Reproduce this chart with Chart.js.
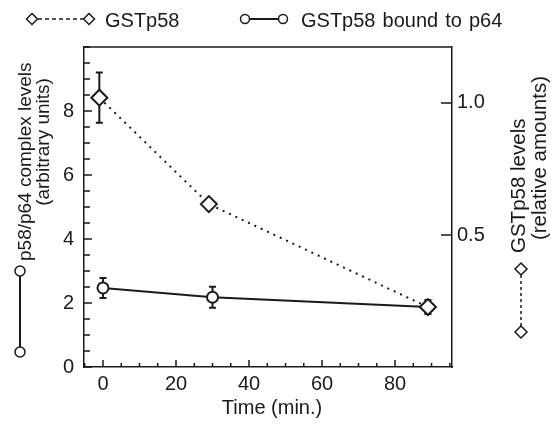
<!DOCTYPE html>
<html><head><meta charset="utf-8">
<script src="https://cdn.jsdelivr.net/npm/chart.js@4/dist/chart.umd.min.js"></script>
<style>html,body{margin:0;padding:0;background:#fff;overflow:hidden}#wrap{width:552px;height:424px}</style>
</head><body><div id="wrap"><canvas id="c" width="552" height="424"></canvas></div>
<script>
// ---- data ----
const timeGST = [-1, 29, 89];
const gstLevels = [1.02, 0.617, 0.227];      // right axis (relative amounts)
const gstErr = [0.095, 0, 0];
const timeBound = [0, 30, 89];
const boundLevels = [2.47, 2.18, 1.875];     // left axis (arbitrary units)
const boundErr = [0.31, 0.33, 0.22];
const xTicks = [0, 20, 40, 60, 80];
const leftTicks = [0, 2, 4, 6, 8];
const rightTicks = [0.5, 1.0];
const legendLabels = ['GSTp58', 'GSTp58 bound to p64'];
const leftTitle = ['p58/p64 complex levels', '(arbitrary units)'];
const rightTitle = ['GSTp58 levels', '(relative amounts)'];
const xTitle = 'Time (min.)';

const INK = '#1a1a1a';
const FONT = '"Liberation Sans", Arial, Helvetica, sans-serif';

function diamond(ctx, x, y, r) {
  ctx.beginPath();
  ctx.moveTo(x, y - r); ctx.lineTo(x + r, y); ctx.lineTo(x, y + r); ctx.lineTo(x - r, y); ctx.closePath();
  ctx.fillStyle = '#fff'; ctx.fill(); ctx.stroke();
}
function circle(ctx, x, y, r) {
  ctx.beginPath(); ctx.arc(x, y, r, 0, Math.PI * 2);
  ctx.fillStyle = '#fff'; ctx.fill(); ctx.stroke();
}

const errorBars = {
  id: 'errorBars',
  beforeDatasetsDraw(chart) {
    const ctx = chart.ctx, xs = chart.scales.x;
    ctx.save();
    ctx.strokeStyle = INK; ctx.lineWidth = 2;
    chart.data.datasets.forEach(ds => {
      const ys = chart.scales[ds.yAxisID];
      ds.data.forEach((p, i) => {
        const e = ds.errors[i];
        if (!e) return;
        const px = xs.getPixelForValue(p.x);
        const t = ys.getPixelForValue(p.y + e), b = ys.getPixelForValue(p.y - e);
        ctx.beginPath();
        ctx.moveTo(px, t); ctx.lineTo(px, b);
        ctx.moveTo(px - 3.5, t); ctx.lineTo(px + 3.5, t);
        ctx.moveTo(px - 3.5, b); ctx.lineTo(px + 3.5, b);
        ctx.stroke();
      });
    });
    ctx.restore();
  }
};

const decor = {
  id: 'decor',
  afterDraw(chart) {
    const ctx = chart.ctx, a = chart.chartArea;
    const xs = chart.scales.x, yl = chart.scales.y, yr = chart.scales.y1;
    ctx.save();
    ctx.strokeStyle = INK; ctx.lineWidth = 1.5;
    // top frame line
    ctx.beginPath(); ctx.moveTo(a.left, a.top); ctx.lineTo(a.right, a.top); ctx.stroke();
    // inward ticks: left axis
    ctx.beginPath();
    for (let v = 0; v <= 10.001; v += 0.5) {
      const y = yl.getPixelForValue(v);
      const len = leftTicks.includes(v) ? 8 : 6;
      ctx.moveTo(a.left, y); ctx.lineTo(a.left + len, y);
    }
    // bottom axis
    for (let v = -5; v <= 95; v += 5) {
      const x = xs.getPixelForValue(v);
      const len = xTicks.includes(v) ? 7 : 4;
      ctx.moveTo(x, a.bottom); ctx.lineTo(x, a.bottom - len);
    }
    // right axis
    rightTicks.forEach(v => {
      const y = yr.getPixelForValue(v);
      ctx.moveTo(a.right, y); ctx.lineTo(a.right - 11, y);
    });
    ctx.stroke();

    // legend
    ctx.fillStyle = INK;
    ctx.font = '20px ' + FONT;
    ctx.textBaseline = 'alphabetic';
    ctx.lineWidth = 1.5;
    ctx.setLineDash([4, 3]);
    ctx.beginPath(); ctx.moveTo(38, 19); ctx.lineTo(83, 19); ctx.stroke();
    ctx.setLineDash([]);
    diamond(ctx, 32, 19, 5.5); diamond(ctx, 89, 19, 5.5);
    ctx.fillStyle = INK; ctx.fillText(legendLabels[0], 105, 27);
    ctx.lineWidth = 2;
    ctx.beginPath(); ctx.moveTo(245, 19); ctx.lineTo(283, 19); ctx.stroke();
    ctx.lineWidth = 1.5;
    circle(ctx, 245, 19, 4.5); circle(ctx, 283, 19, 4.5);
    ctx.fillStyle = INK;
    try { ctx.wordSpacing = '1.5px'; } catch (e) {}
    ctx.fillText(legendLabels[1], 301, 27);
    try { ctx.wordSpacing = '0px'; } catch (e) {}

    // x title
    ctx.textAlign = 'center'; ctx.textBaseline = 'middle';
    ctx.fillText(xTitle, 272, 408);

    // left title (rotated)
    ctx.save();
    ctx.translate(26, 0); ctx.rotate(-Math.PI / 2);
    ctx.font = '19px ' + FONT; ctx.textAlign = 'left'; ctx.textBaseline = 'middle';
    ctx.fillText(leftTitle[0], -261, 0);
    ctx.restore();
    ctx.lineWidth = 2;
    ctx.beginPath(); ctx.moveTo(20, 352); ctx.lineTo(20, 271); ctx.stroke();
    ctx.lineWidth = 1.5;
    circle(ctx, 20, 352, 5); circle(ctx, 20, 271, 5);
    ctx.save();
    ctx.fillStyle = INK;
    ctx.translate(44, 142); ctx.rotate(-Math.PI / 2);
    ctx.font = '19px ' + FONT; ctx.textAlign = 'center'; ctx.textBaseline = 'middle';
    ctx.fillText(leftTitle[1], 0, 0);
    ctx.restore();

    // right title (rotated)
    ctx.save();
    ctx.fillStyle = INK;
    ctx.translate(519, 0); ctx.rotate(-Math.PI / 2);
    ctx.font = '20.5px ' + FONT; ctx.textAlign = 'left'; ctx.textBaseline = 'middle';
    ctx.fillText(rightTitle[0], -253, 0);
    ctx.restore();
    ctx.setLineDash([3, 3]);
    ctx.beginPath(); ctx.moveTo(521, 326); ctx.lineTo(521, 275); ctx.stroke();
    ctx.setLineDash([]);
    diamond(ctx, 521, 332, 6); diamond(ctx, 521, 269, 6);
    ctx.save();
    ctx.fillStyle = INK;
    ctx.translate(540, 158); ctx.rotate(-Math.PI / 2);
    ctx.font = '20.5px ' + FONT; ctx.textAlign = 'center'; ctx.textBaseline = 'middle';
    ctx.fillText(rightTitle[1], 0, 0);
    ctx.restore();
    ctx.restore();
  }
};

const tickFont = { family: FONT, size: 20 };

new Chart(document.getElementById('c'), {
  type: 'line',
  data: {
    datasets: [
      {
        label: legendLabels[0],
        data: timeGST.map((x, i) => ({ x, y: gstLevels[i] })),
        errors: gstErr,
        yAxisID: 'y1',
        borderColor: INK, borderWidth: 2, borderDash: [2, 5],
        pointStyle: 'rectRot', pointRadius: 8, pointBorderWidth: 2,
        pointBackgroundColor: '#fff', pointBorderColor: INK,
        fill: false, tension: 0
      },
      {
        label: legendLabels[1],
        data: timeBound.map((x, i) => ({ x, y: boundLevels[i] })),
        errors: boundErr,
        yAxisID: 'y',
        borderColor: INK, borderWidth: 2,
        pointStyle: 'circle', pointRadius: 5.5, pointBorderWidth: 2,
        pointBackgroundColor: '#fff', pointBorderColor: INK,
        fill: false, tension: 0
      }
    ]
  },
  options: {
    responsive: false, animation: false, devicePixelRatio: 1,
    layout: { padding: { top: 47, left: 0, right: 0, bottom: 0 } },
    plugins: { legend: { display: false }, tooltip: { enabled: false } },
    scales: {
      x: {
        type: 'linear', min: -5.2, max: 95.6,
        afterBuildTicks: s => { s.ticks = xTicks.map(v => ({ value: v })); },
        afterFit: s => { s.height = 57; },
        grid: { display: false, drawTicks: false },
        border: { display: true, color: INK, width: 1.5 },
        ticks: { font: tickFont, color: INK, padding: 5, maxRotation: 0 }
      },
      y: {
        type: 'linear', position: 'left', min: 0, max: 10,
        afterBuildTicks: s => { s.ticks = leftTicks.map(v => ({ value: v })); },
        afterFit: s => { s.width = 84; },
        grid: { display: false, drawTicks: false },
        border: { display: true, color: INK, width: 1.5 },
        ticks: { font: tickFont, color: INK, padding: 10 }
      },
      y1: {
        type: 'linear', position: 'right', min: 0, max: 1.212,
        afterBuildTicks: s => { s.ticks = rightTicks.map(v => ({ value: v })); },
        afterFit: s => { s.width = 100; },
        grid: { display: false, drawTicks: false },
        border: { display: true, color: INK, width: 1.5 },
        ticks: { font: tickFont, color: INK, padding: 5, callback: v => v.toFixed(1) }
      }
    }
  },
  plugins: [errorBars, decor]
});
</script>
</body></html>
